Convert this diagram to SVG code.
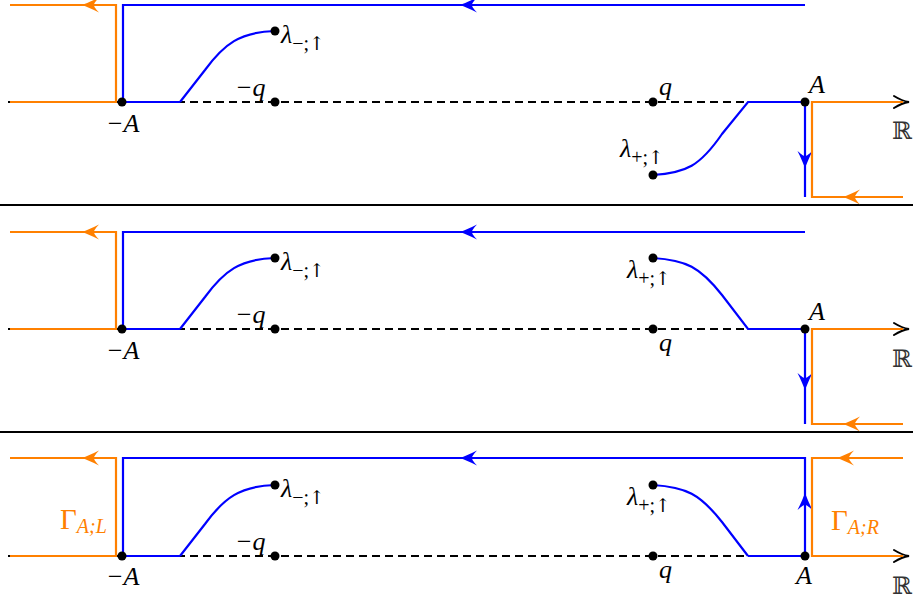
<svg xmlns="http://www.w3.org/2000/svg" width="913" height="599" viewBox="0 0 913 599">
<style>
.bg{fill:#fff}
.axis{fill:none;stroke:#000;stroke-width:2;stroke-dasharray:8,5}
.blue{fill:none;stroke:#0000ff;stroke-width:2.2;stroke-linejoin:miter}
.orange{fill:none;stroke:#ff8000;stroke-width:2.2}
.div{stroke:#000;stroke-width:2}
.tip{fill:none;stroke:#000;stroke-width:2;stroke-linecap:round}
.dot{fill:#000}
.m{font-family:"Liberation Serif",serif;font-style:italic;font-size:26px;fill:#000}
.s{font-family:"Liberation Serif",serif;font-style:normal;font-size:20px;fill:#000}
.up{font-family:"DejaVu Serif",serif;font-style:normal;font-size:19px}
.si{font-family:"Liberation Serif",serif;font-style:italic;font-size:20px}
.R{font-family:"DejaVu Serif",serif;font-size:24px;fill:#333}
.g{font-family:"Liberation Serif",serif;font-size:29px;fill:#ff8000}
.ah-b{fill:#0000ff}
.ah-o{fill:#ff8000}
</style>
<defs>
<path id="ah" d="M0,0 C-4,-1.5 -10,-4 -17,-7.5 C-13,-3 -12,-1.5 -12,0 C-12,1.5 -13,3 -17,7.5 C-10,4 -4,1.5 0,0 Z"/>
</defs>
<rect class="bg" width="913" height="599"/>

<g id="dividers">
<line class="div" x1="0" y1="205" x2="913" y2="205"/>
<line class="div" x1="0" y1="432" x2="913" y2="432"/>
</g>

<!-- Panel 1 -->
<g id="panel1">
<g id="p1-connectors">
<line class="axis" x1="8" y1="102" x2="906" y2="102"/>
<path class="tip" d="M894,96 Q902,101 909,102 Q902,103 894,108"/>
<path class="orange" d="M10,102 H116 V5 H10"/>
<use href="#ah" class="ah-o" transform="translate(82,5) rotate(180)"/>
<path class="blue" d="M805,5 H123 V102 H180"/>
<use href="#ah" class="ah-b" transform="translate(460,5) rotate(180)"/>
<path class="blue" d="M180,102 L205,70 C224,44 240,32 275,31"/>
<path class="blue" d="M653,175 C686,173 700,166 722,134 L748,102 H805 V197"/>
<use href="#ah" class="ah-b" transform="translate(805,168) rotate(90)"/>
<path class="orange" d="M903,102 H812 V197 H903"/>
<use href="#ah" class="ah-o" transform="translate(843,197) rotate(180)"/>
</g>
<g id="p1-nodes">
<g id="p1-mA"><circle class="dot" cx="122" cy="102" r="4.5"/><text class="m" x="106" y="132">−A</text></g>
<g id="p1-mq"><circle class="dot" cx="275" cy="102" r="4.5"/><text class="m" x="235" y="96">−q</text></g>
<g id="p1-lm"><circle class="dot" cx="275" cy="31" r="4.5"/><text class="m" x="281" y="43">λ<tspan class="s" dy="7">−;<tspan class="up">↑</tspan></tspan></text></g>
<g id="p1-q"><circle class="dot" cx="653" cy="102" r="4.5"/><text class="m" x="659" y="95">q</text></g>
<g id="p1-lp"><circle class="dot" cx="653" cy="175" r="4.5"/><text class="m" x="620" y="157">λ<tspan class="s" dy="7">+;<tspan class="up">↑</tspan></tspan></text></g>
<g id="p1-A"><circle class="dot" cx="805" cy="102" r="4.5"/><text class="m" x="809" y="93">A</text></g>
<g id="p1-R"><text class="R" x="892" y="139">ℝ</text></g>
</g>
</g>

<!-- Panel 2 -->
<g id="panel2" transform="translate(0,227)">
<g id="p2-connectors">
<line class="axis" x1="8" y1="102" x2="906" y2="102"/>
<path class="tip" d="M894,96 Q902,101 909,102 Q902,103 894,108"/>
<path class="orange" d="M10,102 H116 V5 H10"/>
<use href="#ah" class="ah-o" transform="translate(82,5) rotate(180)"/>
<path class="blue" d="M805,5 H123 V102 H180"/>
<use href="#ah" class="ah-b" transform="translate(460,5) rotate(180)"/>
<path class="blue" d="M180,102 L205,70 C224,44 240,32 275,31"/>
<path class="blue" d="M653,31 C686,33 700,40 722,68 L748,102 H805 V197"/>
<use href="#ah" class="ah-b" transform="translate(805,163) rotate(90)"/>
<path class="orange" d="M903,102 H812 V197 H903"/>
<use href="#ah" class="ah-o" transform="translate(843,197) rotate(180)"/>
</g>
<g id="p2-nodes">
<g id="p2-mA"><circle class="dot" cx="122" cy="102" r="4.5"/><text class="m" x="106" y="132">−A</text></g>
<g id="p2-mq"><circle class="dot" cx="275" cy="102" r="4.5"/><text class="m" x="235" y="96">−q</text></g>
<g id="p2-lm"><circle class="dot" cx="275" cy="31" r="4.5"/><text class="m" x="281" y="43">λ<tspan class="s" dy="7">−;<tspan class="up">↑</tspan></tspan></text></g>
<g id="p2-q"><circle class="dot" cx="653" cy="102" r="4.5"/><text class="m" x="659" y="124">q</text></g>
<g id="p2-lp"><circle class="dot" cx="653" cy="31" r="4.5"/><text class="m" x="627" y="51">λ<tspan class="s" dy="7">+;<tspan class="up">↑</tspan></tspan></text></g>
<g id="p2-A"><circle class="dot" cx="805" cy="102" r="4.5"/><text class="m" x="809" y="93">A</text></g>
<g id="p2-R"><text class="R" x="892" y="140">ℝ</text></g>
</g>
</g>

<!-- Panel 3 -->
<g id="panel3" transform="translate(0,454)">
<g id="p3-connectors">
<line class="axis" x1="8" y1="102" x2="906" y2="102"/>
<path class="tip" d="M894,96 Q902,101 909,102 Q902,103 894,108"/>
<path class="orange" d="M10,102 H116 V4 H10"/>
<use href="#ah" class="ah-o" transform="translate(82,4) rotate(180)"/>
<path class="blue" d="M180,102 H123 V4 H805 V102 H748"/>
<use href="#ah" class="ah-b" transform="translate(460,4) rotate(180)"/>
<use href="#ah" class="ah-b" transform="translate(805,39) rotate(-90)"/>
<path class="blue" d="M180,102 L205,70 C224,44 240,32 275,31"/>
<path class="blue" d="M653,31 C686,33 700,40 722,68 L748,102"/>
<path class="orange" d="M903,102 H812 V4 H903"/>
<use href="#ah" class="ah-o" transform="translate(837,4) rotate(180)"/>
</g>
<g id="p3-nodes">
<g id="p3-mA"><circle class="dot" cx="122" cy="102" r="4.5"/><text class="m" x="106" y="131">−A</text></g>
<g id="p3-mq"><circle class="dot" cx="275" cy="102" r="4.5"/><text class="m" x="235" y="96">−q</text></g>
<g id="p3-lm"><circle class="dot" cx="275" cy="31" r="4.5"/><text class="m" x="281" y="43">λ<tspan class="s" dy="7">−;<tspan class="up">↑</tspan></tspan></text></g>
<g id="p3-q"><circle class="dot" cx="653" cy="102" r="4.5"/><text class="m" x="659" y="124">q</text></g>
<g id="p3-lp"><circle class="dot" cx="653" cy="31" r="4.5"/><text class="m" x="627" y="51">λ<tspan class="s" dy="7">+;<tspan class="up">↑</tspan></tspan></text></g>
<g id="p3-A"><circle class="dot" cx="805" cy="102" r="4.5"/><text class="m" x="796" y="130">A</text></g>
<g id="p3-R"><text class="R" x="892" y="140">ℝ</text></g>
<g id="p3-GL"><text class="g" x="60" y="75">Γ<tspan class="si" dy="4">A;L</tspan></text></g>
<g id="p3-GR"><text class="g" x="831" y="76">Γ<tspan class="si" dy="4">A;R</tspan></text></g>
</g>
</g>
</svg>
